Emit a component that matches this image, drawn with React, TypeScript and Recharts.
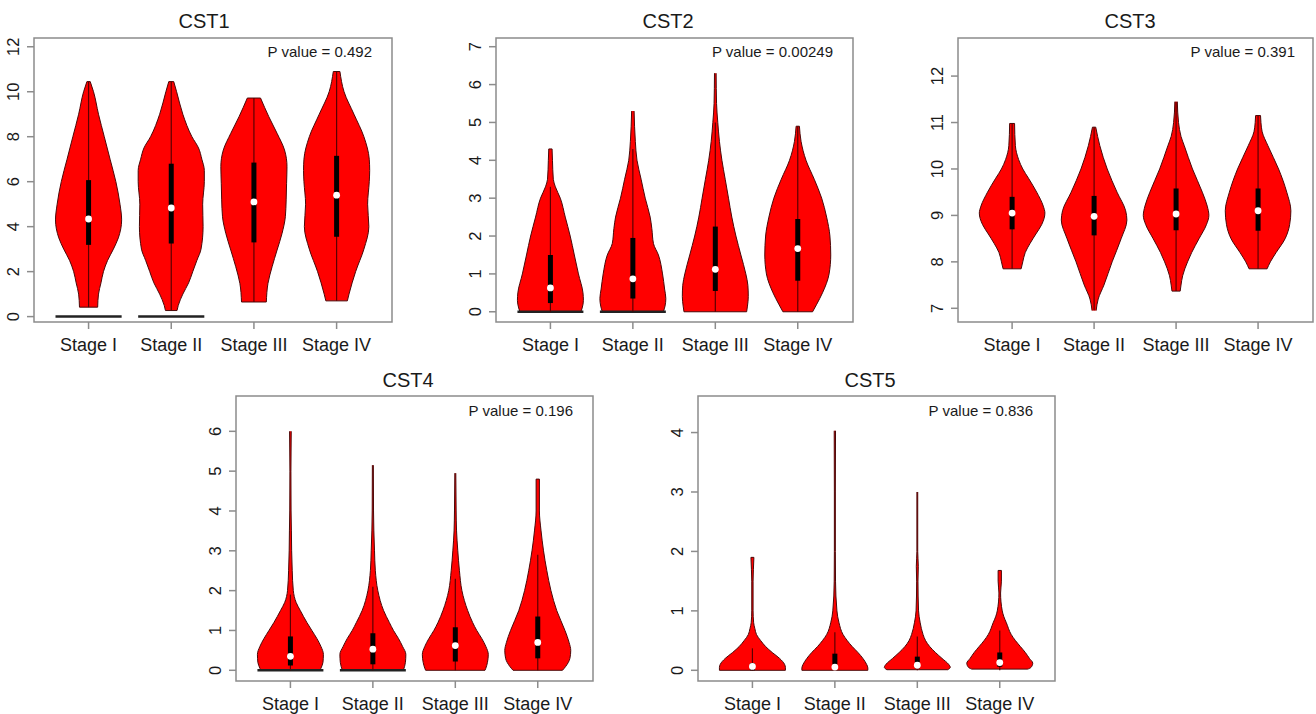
import React from 'react';
import { ComposedChart, Area, XAxis, YAxis, ReferenceLine, ReferenceDot, ReferenceArea } from 'recharts';

const FONT = '"Liberation Sans", Arial, Helvetica, sans-serif';

// ---------- categories / labels ----------
const stages = ['Stage I', 'Stage II', 'Stage III', 'Stage IV'];
const stagePos = [1, 2, 3, 4];
const xDomain = [0.34, 4.67];
const titles = ['CST1', 'CST2', 'CST3', 'CST4', 'CST5'];
const pValues = ['0.492', '0.00249', '0.391', '0.196', '0.836'];

// ---------- violin profiles: [expression, half-width] ----------
const cst1StageI = [[0.42, 0.11], [1.0, 0.12], [1.5, 0.15], [2.0, 0.18], [2.5, 0.23], [3.0, 0.3], [3.5, 0.36], [4.3, 0.4], [5.0, 0.38], [6.0, 0.33], [7.0, 0.26], [8.0, 0.19], [9.0, 0.12], [10.0, 0.06], [10.45, 0.02]];
const cst1StageII = [[0.27, 0.07], [0.5, 0.085], [1.0, 0.14], [1.5, 0.21], [2.0, 0.26], [2.5, 0.31], [3.0, 0.36], [4.0, 0.385], [5.0, 0.38], [6.0, 0.4], [6.5, 0.4], [7.0, 0.37], [7.5, 0.33], [8.0, 0.25], [9.0, 0.14], [10.0, 0.065], [10.45, 0.03]];
const cst1StageIII = [[0.65, 0.15], [1.48, 0.17], [2.22, 0.22], [2.96, 0.28], [3.7, 0.34], [4.44, 0.38], [5.19, 0.39], [5.93, 0.395], [6.67, 0.4], [7.41, 0.37], [8.15, 0.28], [8.89, 0.18], [9.72, 0.08]];
const cst1StageIV = [[0.7, 0.13], [1.0, 0.15], [2.0, 0.23], [3.0, 0.33], [4.0, 0.39], [5.0, 0.375], [6.0, 0.395], [6.5, 0.4], [7.0, 0.395], [8.0, 0.33], [9.0, 0.21], [10.0, 0.09], [10.9, 0.04]];

const cst2StageI = [[0, 0.37], [0.1, 0.385], [0.3, 0.4], [0.5, 0.395], [1.0, 0.34], [1.5, 0.29], [2.0, 0.24], [2.5, 0.18], [3.0, 0.12], [3.3, 0.06], [3.5, 0.035], [4.0, 0.025], [4.3, 0.02]];
const cst2StageII = [[0, 0.37], [0.15, 0.39], [0.35, 0.4], [0.6, 0.385], [1.0, 0.36], [1.5, 0.31], [1.8, 0.25], [2.2, 0.23], [2.5, 0.21], [3.0, 0.15], [3.5, 0.1], [4.0, 0.05], [4.5, 0.03], [5.3, 0.015]];
const cst2StageIII = [[0, 0.38], [0.15, 0.39], [0.4, 0.4], [0.7, 0.395], [1.0, 0.37], [1.5, 0.31], [2.0, 0.25], [2.5, 0.2], [3.0, 0.16], [3.5, 0.12], [4.0, 0.08], [4.5, 0.05], [5.0, 0.03], [5.5, 0.015], [6.3, 0.01]];
const cst2StageIV = [[0, 0.18], [0.2, 0.23], [0.5, 0.3], [1.0, 0.38], [1.5, 0.4], [2.0, 0.39], [2.5, 0.35], [3.0, 0.29], [3.5, 0.2], [4.0, 0.1], [4.5, 0.04], [4.9, 0.02]];

const cst3StageI = [[7.85, 0.11], [8.0, 0.13], [8.2, 0.16], [8.4, 0.22], [8.6, 0.29], [8.8, 0.36], [9.05, 0.4], [9.2, 0.38], [9.5, 0.3], [9.8, 0.2], [10.0, 0.13], [10.2, 0.08], [10.5, 0.04], [10.98, 0.03]];
const cst3StageII = [[6.95, 0.025], [7.2, 0.05], [7.5, 0.12], [8.0, 0.22], [8.5, 0.33], [8.9, 0.4], [9.1, 0.385], [9.5, 0.28], [10.0, 0.16], [10.5, 0.07], [10.9, 0.02]];
const cst3StageIII = [[7.37, 0.05], [7.5, 0.06], [7.7, 0.08], [8.0, 0.14], [8.2, 0.19], [8.5, 0.28], [8.8, 0.37], [9.0, 0.4], [9.2, 0.38], [9.5, 0.32], [10.0, 0.2], [10.5, 0.1], [10.7, 0.06], [11.0, 0.03], [11.45, 0.015]];
const cst3StageIV = [[7.85, 0.11], [8.0, 0.15], [8.2, 0.22], [8.5, 0.33], [8.8, 0.385], [9.1, 0.4], [9.5, 0.35], [10.0, 0.25], [10.5, 0.12], [10.8, 0.05], [11.0, 0.035], [11.15, 0.03]];

const cst4StageI = [[0, 0.36], [0.05, 0.37], [0.2, 0.395], [0.4, 0.4], [0.6, 0.37], [0.8, 0.32], [1.0, 0.26], [1.2, 0.2], [1.5, 0.12], [1.7, 0.07], [2.0, 0.035], [2.5, 0.022], [3.0, 0.015], [3.5, 0.012], [4.0, 0.008], [5.0, 0.006], [6.0, 0.01]];
const cst4StageII = [[0, 0.37], [0.2, 0.395], [0.4, 0.4], [0.6, 0.36], [0.8, 0.31], [1.0, 0.25], [1.2, 0.2], [1.5, 0.13], [2.0, 0.06], [2.5, 0.03], [3.0, 0.02], [3.5, 0.012], [4.0, 0.008], [5.15, 0.006]];
const cst4StageIII = [[0, 0.36], [0.05, 0.37], [0.2, 0.39], [0.4, 0.4], [0.6, 0.37], [0.8, 0.32], [1.0, 0.26], [1.2, 0.21], [1.5, 0.15], [2.0, 0.08], [2.5, 0.05], [3.0, 0.03], [3.5, 0.015], [4.0, 0.01], [4.95, 0.006]];
const cst4StageIV = [[0, 0.3], [0.1, 0.34], [0.3, 0.39], [0.5, 0.4], [0.7, 0.38], [1.0, 0.33], [1.5, 0.23], [2.0, 0.16], [2.5, 0.11], [3.0, 0.07], [3.5, 0.04], [4.0, 0.02], [4.8, 0.02]];

const cst5StageI = [[0, 0.4], [0.05, 0.4], [0.1, 0.39], [0.2, 0.33], [0.3, 0.24], [0.4, 0.16], [0.5, 0.1], [0.6, 0.05], [0.7, 0.03], [0.8, 0.015], [1.0, 0.008], [1.5, 0.008], [1.7, 0.012], [1.9, 0.018]];
const cst5StageII = [[0, 0.4], [0.04, 0.4], [0.1, 0.385], [0.2, 0.34], [0.3, 0.28], [0.4, 0.21], [0.5, 0.15], [0.6, 0.1], [0.8, 0.05], [1.0, 0.025], [1.5, 0.008], [2.0, 0.006], [3.0, 0.006], [4.03, 0.008]];
const cst5StageIII = [[0.01, 0.37], [0.05, 0.4], [0.1, 0.38], [0.2, 0.3], [0.3, 0.22], [0.4, 0.15], [0.5, 0.1], [0.6, 0.07], [0.8, 0.035], [1.0, 0.015], [1.5, 0.008], [1.75, 0.012], [2.0, 0.005], [3.0, 0.005]];
const cst5StageIV = [[0.02, 0.34], [0.05, 0.38], [0.12, 0.4], [0.2, 0.36], [0.3, 0.31], [0.4, 0.25], [0.5, 0.19], [0.6, 0.14], [0.8, 0.08], [0.9, 0.05], [1.0, 0.03], [1.3, 0.01], [1.5, 0.02], [1.68, 0.02]];

// ---------- box statistics ----------
const cst1Q1 = [3.19, 3.25, 3.3, 3.55];
const cst1Q3 = [6.07, 6.8, 6.85, 7.15];
const cst1Median = [4.34, 4.83, 5.1, 5.4];
const cst1WhiskerLo = [0.42, 0.27, 0.65, 0.7];
const cst1WhiskerHi = [10.45, 10.45, 9.72, 10.9];
const cst1ZeroBar = [0.4, 0.4, 0, 0];

const cst2Q1 = [0.23, 0.35, 0.55, 0.82];
const cst2Q3 = [1.5, 1.95, 2.25, 2.45];
const cst2Median = [0.63, 0.87, 1.12, 1.67];
const cst2WhiskerLo = [0, 0, 0, 0];
const cst2WhiskerHi = [3.3, 4.3, 5.0, 4.9];
const cst2ZeroBar = [0.4, 0.4, 0, 0];

const cst3Q1 = [8.7, 8.57, 8.68, 8.67];
const cst3Q3 = [9.4, 9.42, 9.58, 9.58];
const cst3Median = [9.05, 8.98, 9.03, 9.1];
const cst3WhiskerLo = [7.85, 6.95, 7.37, 7.85];
const cst3WhiskerHi = [10.98, 10.9, 11.45, 11.15];
const cst3ZeroBar = [0, 0, 0, 0];

const cst4Q1 = [0.12, 0.15, 0.22, 0.3];
const cst4Q3 = [0.85, 0.93, 1.08, 1.35];
const cst4Median = [0.35, 0.53, 0.62, 0.7];
const cst4WhiskerLo = [0, 0, 0, 0];
const cst4WhiskerHi = [1.9, 2.1, 2.3, 2.9];
const cst4ZeroBar = [0.4, 0.4, 0, 0];

const cst5Q1 = [0.0, 0.03, 0.03, 0.06];
const cst5Q3 = [0.12, 0.28, 0.23, 0.3];
const cst5Median = [0.065, 0.055, 0.085, 0.13];
const cst5WhiskerLo = [0, 0, 0, 0];
const cst5WhiskerHi = [0.37, 0.64, 0.57, 0.67];
const cst5ZeroBar = [0, 0, 0, 0];

// ---------- axes ----------
const cst1Ticks = [0, 2, 4, 6, 8, 10, 12];
const cst2Ticks = [0, 1, 2, 3, 4, 5, 6, 7];
const cst3Ticks = [7, 8, 9, 10, 11, 12];
const cst4Ticks = [0, 1, 2, 3, 4, 5, 6];
const cst5Ticks = [0, 1, 2, 3, 4];
const cst1YDomain = [-0.24, 12.39];
const cst2YDomain = [-0.27, 7.23];
const cst3YDomain = [6.705, 12.82];
const cst4YDomain = [-0.269, 6.887];
const cst5YDomain = [-0.18, 4.615];

const panels = [
  { violins: [cst1StageI, cst1StageII, cst1StageIII, cst1StageIV], q1: cst1Q1, q3: cst1Q3, med: cst1Median, wLo: cst1WhiskerLo, wHi: cst1WhiskerHi, zero: cst1ZeroBar, ticks: cst1Ticks, yDomain: cst1YDomain },
  { violins: [cst2StageI, cst2StageII, cst2StageIII, cst2StageIV], q1: cst2Q1, q3: cst2Q3, med: cst2Median, wLo: cst2WhiskerLo, wHi: cst2WhiskerHi, zero: cst2ZeroBar, ticks: cst2Ticks, yDomain: cst2YDomain },
  { violins: [cst3StageI, cst3StageII, cst3StageIII, cst3StageIV], q1: cst3Q1, q3: cst3Q3, med: cst3Median, wLo: cst3WhiskerLo, wHi: cst3WhiskerHi, zero: cst3ZeroBar, ticks: cst3Ticks, yDomain: cst3YDomain },
  { violins: [cst4StageI, cst4StageII, cst4StageIII, cst4StageIV], q1: cst4Q1, q3: cst4Q3, med: cst4Median, wLo: cst4WhiskerLo, wHi: cst4WhiskerHi, zero: cst4ZeroBar, ticks: cst4Ticks, yDomain: cst4YDomain },
  { violins: [cst5StageI, cst5StageII, cst5StageIII, cst5StageIV], q1: cst5Q1, q3: cst5Q3, med: cst5Median, wLo: cst5WhiskerLo, wHi: cst5WhiskerHi, zero: cst5ZeroBar, ticks: cst5Ticks, yDomain: cst5YDomain },
];

// ---------- layout (plot box edges, title centre, p-value right edge) ----------
const layouts = [
  { L: 34, T: 38, R: 392, B: 322, tx: 204, ty: 21, pr: 372, py: 51.5 },
  { L: 496, T: 38, R: 853, B: 322, tx: 668, ty: 21, pr: 833, py: 51.5 },
  { L: 958, T: 38, R: 1313, B: 322, tx: 1130, ty: 21, pr: 1295, py: 51.5 },
  { L: 236, T: 396, R: 593, B: 681, tx: 408, ty: 379.5, pr: 573, py: 410.5 },
  { L: 698, T: 396, R: 1055, B: 681, tx: 870, ty: 379.5, pr: 1033, py: 410.5 },
];

const FILL = '#ff0000';
const OUTLINE = '#4a0808';
const FRAME = '#8c8c8c';
const TEXT = '#1a1a1a';
const Y_AXIS_W = 40;
const X_AXIS_H = 40;
const TITLE_FS = 20;
const PVAL_FS = 15;

function buildRows(violins: number[][][]) {
  const rows: any[] = [];
  violins.forEach((v, i) => v.forEach(([y, hw]) => rows.push({ y, ['s' + i]: hw })));
  rows.sort((a, b) => a.y - b.y);
  return rows;
}

const RotatedTick = (props: any) => {
  const { x, y, payload } = props;
  return (
    <text x={x} y={y} transform={`rotate(-90 ${x} ${y})`} textAnchor="middle" fontSize={16.5} fontFamily={FONT} fill={TEXT}>
      {payload.value}
    </text>
  );
};

function ViolinPanel({ idx }: { idx: number }) {
  const p = panels[idx];
  const lay = layouts[idx];
  const rows = buildRows(p.violins);
  const width = Y_AXIS_W + (lay.R - lay.L) + 3;
  const height = 2 + (lay.B - lay.T) + X_AXIS_H + 2;
  return (
    <div style={{ position: 'absolute', left: lay.L - Y_AXIS_W, top: lay.T - 2 }}>
      <ComposedChart width={width} height={height} data={rows} layout="vertical" margin={{ top: 2, right: 3, bottom: 2, left: 0 }}>
        <XAxis
          type="number"
          domain={xDomain}
          ticks={stagePos}
          interval={0}
          allowDataOverflow
          tickFormatter={(v: number) => stages[v - 1]}
          axisLine={false}
          tickLine={{ stroke: FRAME, strokeWidth: 1.5 }}
          tickSize={7}
          tickMargin={9}
          height={X_AXIS_H}
          tick={{ fill: TEXT, fontSize: 18, fontFamily: FONT }}
        />
        <YAxis
          type="number"
          dataKey="y"
          reversed
          domain={p.yDomain}
          ticks={p.ticks}
          interval={0}
          allowDataOverflow
          axisLine={false}
          tickLine={{ stroke: FRAME, strokeWidth: 1.5 }}
          tickSize={7}
          tickMargin={8}
          width={Y_AXIS_W}
          tick={RotatedTick}
        />
        {stagePos.map((pos, i) => (
          <Area
            key={'v' + i}
            type="monotone"
            dataKey={(r: any) => (r['s' + i] != null ? [pos - r['s' + i], pos + r['s' + i]] : [null, null])}
            fill={FILL}
            fillOpacity={1}
            stroke={OUTLINE}
            strokeWidth={1}
            connectNulls
            dot={false}
            activeDot={false}
            isAnimationActive={false}
          />
        ))}
        {stagePos.map((pos, i) => {
          const v = p.violins[i];
          const [y0, h0] = v[0];
          const [y1, h1] = v[v.length - 1];
          return (
            <React.Fragment key={'e' + i}>
              {h0 > 0.03 && (
                <ReferenceLine segment={[{ x: pos - h0, y: y0 }, { x: pos + h0, y: y0 }]} stroke={OUTLINE} strokeWidth={1} ifOverflow="visible" />
              )}
              {h1 > 0.015 && (
                <ReferenceLine segment={[{ x: pos - h1, y: y1 }, { x: pos + h1, y: y1 }]} stroke={OUTLINE} strokeWidth={1} ifOverflow="visible" />
              )}
              {p.zero[i] > 0 && (
                <ReferenceLine segment={[{ x: pos - p.zero[i], y: 0 }, { x: pos + p.zero[i], y: 0 }]} stroke="#222" strokeWidth={2.5} ifOverflow="visible" />
              )}
              <ReferenceLine segment={[{ x: pos, y: p.wLo[i] }, { x: pos, y: p.wHi[i] }]} stroke="#5a0000" strokeWidth={1.2} ifOverflow="visible" />
              <ReferenceLine segment={[{ x: pos, y: p.q1[i] }, { x: pos, y: p.q3[i] }]} stroke="#000" strokeWidth={5} ifOverflow="visible" />
            </React.Fragment>
          );
        })}
        {stagePos.map((pos, i) => (
          <ReferenceDot key={'m' + i} x={pos} y={p.med[i]} r={3.4} fill="#ffffff" stroke="none" ifOverflow="visible" />
        ))}
        <ReferenceArea x1={xDomain[0]} x2={xDomain[1]} y1={p.yDomain[0]} y2={p.yDomain[1]} fill="none" stroke={FRAME} strokeWidth={1.5} ifOverflow="visible" />
      </ComposedChart>
    </div>
  );
}

export default function App() {
  return (
    <div style={{ position: 'absolute', left: 0, top: 0, width: 1316, height: 714, overflow: 'hidden', background: '#ffffff', fontFamily: FONT }}>
      {layouts.map((lay, i) => (
        <ViolinPanel key={'p' + i} idx={i} />
      ))}
      {layouts.map((lay, i) => (
        <React.Fragment key={'t' + i}>
          <div style={{ position: 'absolute', left: lay.tx - 100, width: 200, top: lay.ty - 0.49 * TITLE_FS, fontSize: TITLE_FS, lineHeight: TITLE_FS + 'px', textAlign: 'center', color: TEXT }}>
            {titles[i]}
          </div>
          <div style={{ position: 'absolute', left: lay.pr - 200, width: 200, top: lay.py - 0.49 * PVAL_FS, fontSize: PVAL_FS, lineHeight: PVAL_FS + 'px', textAlign: 'right', color: TEXT, whiteSpace: 'nowrap' }}>
            {'P value = ' + pValues[i]}
          </div>
        </React.Fragment>
      ))}
    </div>
  );
}
